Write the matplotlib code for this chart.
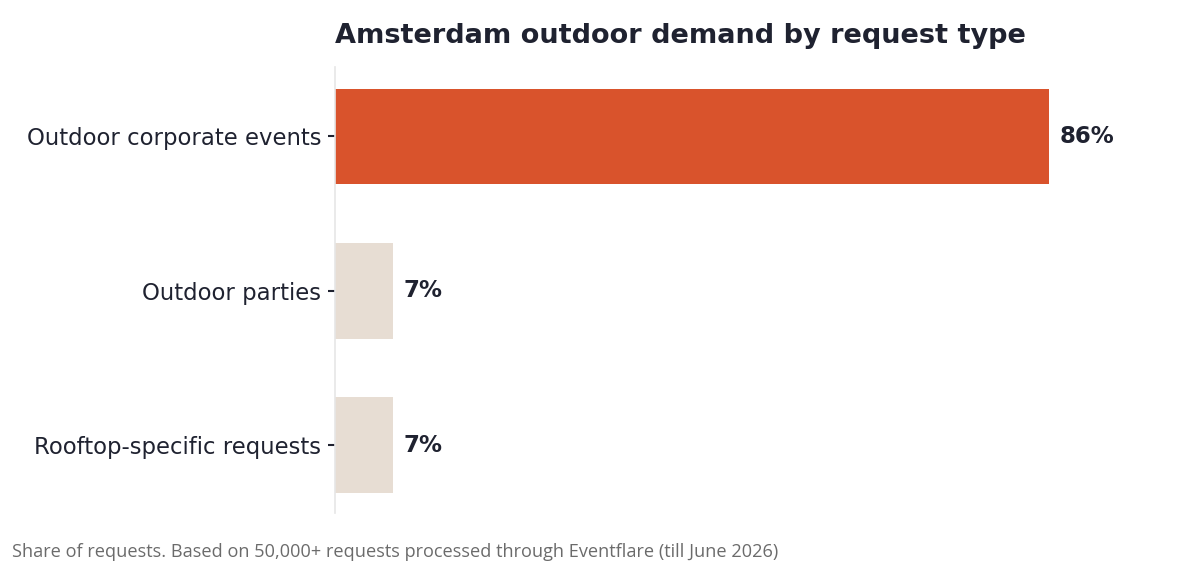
import matplotlib
matplotlib.use('Agg')
import matplotlib.pyplot as plt

categories = ['Outdoor corporate events', 'Outdoor parties', 'Rooftop-specific requests']
shares = [86, 7, 7]
bar_colors = ['#d9532c', '#e7ddd3', '#e7ddd3']

title = 'Amsterdam outdoor demand by request type'
note = 'Share of requests. Based on 50,000+ requests processed through Eventflare (till June 2026)'

text_color = '#1f2230'

fig = plt.figure(figsize=(12, 5.64), dpi=100, facecolor='white')
ax = fig.add_axes([335 / 1200, 1 - 513 / 564, 830 / 1200, 446 / 564])

y = list(range(len(categories)))
ax.barh(y, shares, height=0.62, color=bar_colors)

for yi, v in zip(y, shares):
    ax.text(v + 1.3, yi, f'{v}%', va='center', ha='left', fontsize=16.5,
            fontweight='bold', color=text_color)

ax.set_yticks(y)
ax.set_yticklabels(categories, fontsize=16.4, color=text_color)
ax.set_ylim(2.44, -0.45)
ax.set_xlim(0, 100)
ax.set_xticks([])
ax.tick_params(axis='y', length=5, width=1.5, color=text_color, pad=5)

for s in ['top', 'right', 'bottom']:
    ax.spines[s].set_visible(False)
ax.spines['left'].set_color('#e6e6e6')
ax.spines['left'].set_linewidth(1.2)

ax.set_title(title, loc='left', fontsize=19.5, fontweight='bold', color=text_color, pad=17)

fig.text(12 / 1200, 1 - 552 / 564, note, fontsize=13.1, color='#6b6b6b',
         family='Open Sans', va='center', ha='left')

fig.savefig('out.png', dpi=100)
